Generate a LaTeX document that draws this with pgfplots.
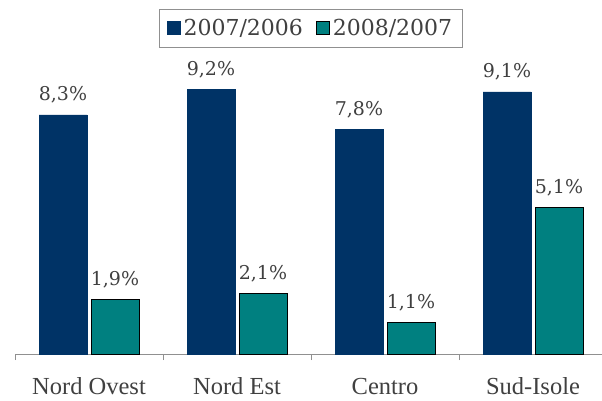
\documentclass[border=0pt]{standalone}
\usepackage{pgfplots}
\pgfplotsset{compat=1.18}
\usepackage{fontspec}
\setmainfont{Liberation Serif}
\newfontfamily\numfont{DejaVu Serif}
\definecolor{navy}{HTML}{003366}
\definecolor{tealc}{HTML}{008080}
\definecolor{txt}{HTML}{404040}
\definecolor{axg}{HTML}{909090}
\begin{document}
\begin{tikzpicture}
\begin{axis}[
  scale only axis, width=592pt, height=288pt,
  xmin=-0.5, xmax=3.5, ymin=0, ymax=10,
  hide y axis, axis x line*=bottom,
  x axis line style={axg, line width=0.9pt},
  xtick={0,1,2,3},
  xticklabels={Nord Ovest, Nord Est, Centro, Sud-Isole},
  major tick length=0pt,
  minor xtick={-0.5,0.5,1.5,2.5,3.5},
  minor tick length=6pt, tick align=outside,
  minor tick style={axg, line width=0.9pt},
  xticklabel style={font=\fontsize{24.5}{26}\selectfont, text=txt, anchor=base, yshift=-40pt, inner sep=0pt},
  ybar=4pt, bar width=48pt,
  point meta=explicit symbolic,
  nodes near coords,
  every node near coord/.append style={font=\numfont\fontsize{19}{21}\selectfont, text=txt, anchor=base, inner sep=0pt, yshift=14pt},
  clip=false,
  legend style={at={(0.5,1.198)}, anchor=north, legend columns=2, draw=axg, line width=0.8pt,
    font=\numfont\fontsize{22}{24}\selectfont, text=txt, inner xsep=7pt, inner ysep=6pt,
    nodes={inner xsep=3pt, inner ysep=4pt},
    /tikz/every even column/.append style={column sep=10pt}},
  legend image code/.code={\draw[#1, line width=0.8pt] (0pt,-6pt) rectangle (13pt,7pt);},
]
\addplot[fill=navy, draw=navy, line width=0.4pt] coordinates {(0,8.3) [8,3\%] (1,9.2) [9,2\%] (2,7.8) [7,8\%] (3,9.1) [9,1\%]};
\addplot[fill=tealc, draw=black, line width=0.9pt] coordinates {(0,1.9) [1,9\%] (1,2.1) [2,1\%] (2,1.1) [1,1\%] (3,5.1) [5,1\%]};
\legend{2007/2006, 2008/2007}
\coordinate (bl) at (rel axis cs:0,0);
\end{axis}
\pgfresetboundingbox
\path[use as bounding box] ([xshift=-15pt,yshift=-46pt]bl) rectangle ([xshift=587pt,yshift=354pt]bl);
\end{tikzpicture}
\end{document}
